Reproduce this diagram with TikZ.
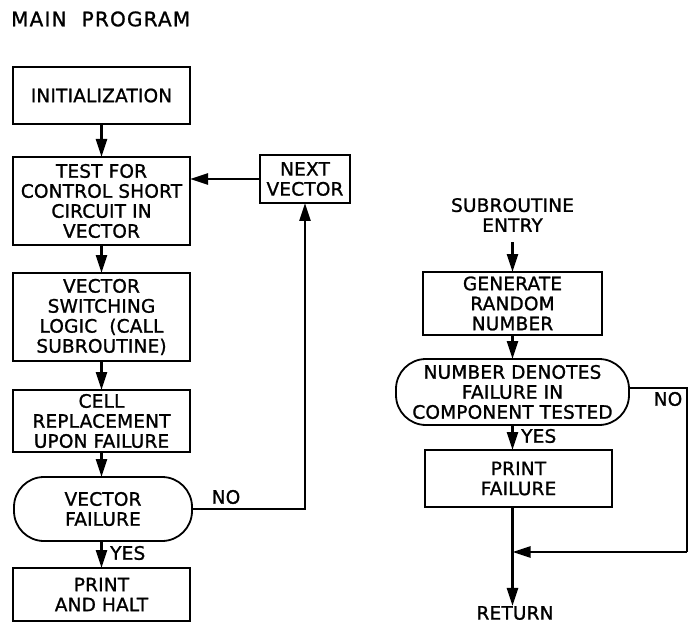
\documentclass[tikz,border=0pt]{standalone}
\usepackage{fontspec}
\setmainfont{DejaVu Sans}[LetterSpace=1,FakeBold=1.2]
\usetikzlibrary{arrows.meta,positioning}
\begin{document}
\begin{tikzpicture}[x=1pt,y=-1pt,
  every node/.style={font=\fontsize{18.5}{20}\selectfont, align=center, inner sep=0pt},
  box/.style={draw, line width=1.8pt, minimum width=#1, outer sep=0pt},
  box/.default=177pt,
  stad/.style={draw, line width=1.8pt, rounded corners=30pt, outer sep=0pt},
  conn/.style={line width=2.5pt},
  arr/.style={conn, -{Triangle[length=18pt,width=11pt]}},
  lbl/.style={font=\fontsize{18.5}{20}\selectfont}]
\useasboundingbox (0,0) rectangle (694,623);

\node[anchor=west, font=\fontsize{20}{22}\selectfont\addfontfeature{LetterSpace=6}] (title) at (11,19) {MAIN\ \ PROGRAM};

% main program
\node[box, minimum height=57pt] (init) at (101.5,95.5) {INITIALIZATION};
\node[box, minimum height=88pt] (test) at (101.5,201) {TEST FOR\\CONTROL SHORT\\CIRCUIT IN\\VECTOR};
\node[box=90pt, minimum height=48pt] (next) at (305,179) {NEXT\\VECTOR};
\node[box, minimum height=88pt] (switch) at (101.5,317) {VECTOR\\SWITCHING\\LOGIC\ \ (CALL\\SUBROUTINE)};
\node[box, minimum height=62pt] (cell) at (101.5,421) {CELL\\REPLACEMENT\\UPON FAILURE};
\node[stad, minimum width=178pt, minimum height=64pt] (vfail) at (103,509) {VECTOR\\FAILURE};
\node[box, minimum height=53pt] (halt) at (101.5,594.5) {PRINT\\AND HALT};

\draw[arr] (init) -- (test);
\draw[arr] (test) -- (switch);
\draw[arr] (switch) -- (cell);
\draw[arr] (cell) -- (cell.south |- vfail.north);
\draw[arr] (cell.south |- vfail.south) -- (halt.north);
\node[lbl, anchor=west] (yes1) at (110,553) {YES};
\coordinate (nocorner) at (next.south |- vfail.east);
\draw[arr] (vfail.east) -- (nocorner) -- (next.south);
\node[lbl] (no1) at (226,497) {NO};
\draw[arr] (next.west) -- (next.west -| test.east);

% subroutine
\node (entry) at (512.5,215) {SUBROUTINE\\ENTRY};
\node[box=179pt, minimum height=63pt] (gen) at (512.5,303.5) {GENERATE\\RANDOM\\NUMBER};
\node[stad, minimum width=233pt, minimum height=66pt] (num) at (512.5,392) {NUMBER DENOTES\\FAILURE IN\\COMPONENT TESTED};
\node[box=187pt, minimum height=57pt] (pf) at (518.5,478.5) {PRINT\\FAILURE};
\node (ret) at (515,613) {RETURN};

\coordinate (e0) at (512.5,242);
\draw[arr] (e0) -- (gen.north);
\draw[arr] (gen) -- (num);
\draw[arr] (num.south) -- (num.south |- pf.north);
\node[lbl, anchor=west] (yes2) at (521,436) {YES};
\coordinate (nr) at (687,388);
\coordinate (join) at (512.5,552);
\draw[conn] (num.east |- nr) -- (nr) -- (nr |- join);
\draw[arr] (nr |- join) -- (join);
\draw[arr] (join |- pf.south) -- (join) -- (join |- ret.north);
\node[lbl] (no2) at (668,399) {NO};
\end{tikzpicture}
\end{document}
